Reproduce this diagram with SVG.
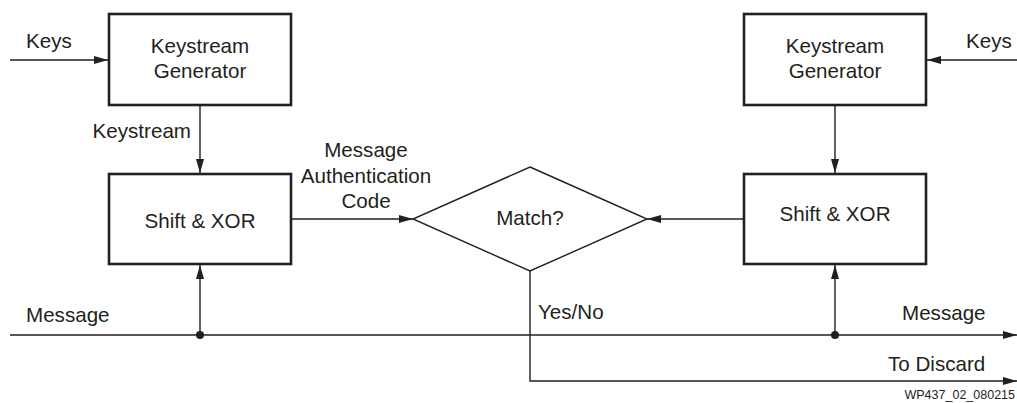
<svg xmlns="http://www.w3.org/2000/svg" width="1017" height="403" viewBox="0 0 1017 403">
<style>
text{font-family:"Liberation Sans",Arial,sans-serif;font-size:20.6px;fill:#231f20}
.box{fill:#fff;stroke:#231f20;stroke-width:2.6}
.dia{fill:#fff;stroke:#231f20;stroke-width:1.4}
.c{fill:none;stroke:#231f20;stroke-width:1.4}
.m{text-anchor:middle}
.e{text-anchor:end}
</style>
<defs>
<marker id="arr" markerUnits="userSpaceOnUse" markerWidth="14" markerHeight="8" refX="14" refY="4" orient="auto">
<path d="M0,0 L14,4 L0,8 z" fill="#231f20"/>
</marker>
</defs>
<rect width="1017" height="403" fill="#fff"/>
<g id="connectors">
<line class="c" x1="10" y1="60" x2="108" y2="60" marker-end="url(#arr)"/>
<line class="c" x1="1017" y1="60" x2="927" y2="60" marker-end="url(#arr)"/>
<line class="c" x1="200" y1="106" x2="200" y2="173" marker-end="url(#arr)"/>
<line class="c" x1="835" y1="106" x2="835" y2="173" marker-end="url(#arr)"/>
<line class="c" x1="292" y1="219" x2="413" y2="219" marker-end="url(#arr)"/>
<line class="c" x1="743" y1="219" x2="647" y2="219" marker-end="url(#arr)"/>
<line class="c" x1="10" y1="335" x2="1017" y2="335" marker-end="url(#arr)"/>
<line class="c" x1="200" y1="335" x2="200" y2="265" marker-end="url(#arr)"/>
<line class="c" x1="835" y1="335" x2="835" y2="265" marker-end="url(#arr)"/>
<circle cx="200" cy="335" r="4" fill="#231f20"/>
<circle cx="835" cy="335" r="4" fill="#231f20"/>
<polyline class="c" points="530,271 530,381 1017,381" marker-end="url(#arr)"/>
<text x="26" y="48">Keys</text>
<text x="966" y="48">Keys</text>
<text class="e" x="191" y="138">Keystream</text>
<text class="m" x="366" y="157">Message</text>
<text class="m" x="366" y="183">Authentication</text>
<text class="m" x="366" y="208">Code</text>
<text x="26" y="322">Message</text>
<text x="538" y="319">Yes/No</text>
<text x="902" y="320">Message</text>
<text x="888" y="371">To Discard</text>
</g>
<g id="kg-left">
<rect class="box" x="109" y="14" width="182" height="91"/>
<text class="m" x="200" y="53">Keystream</text>
<text class="m" x="200" y="78">Generator</text>
</g>
<g id="kg-right">
<rect class="box" x="744" y="14" width="182" height="91"/>
<text class="m" x="835" y="53">Keystream</text>
<text class="m" x="835" y="78">Generator</text>
</g>
<g id="sx-left">
<rect class="box" x="109" y="174" width="182" height="90"/>
<text class="m" x="200" y="228">Shift &amp; XOR</text>
</g>
<g id="sx-right">
<rect class="box" x="744" y="174" width="182" height="90"/>
<text class="m" x="835" y="221">Shift &amp; XOR</text>
</g>
<g id="match">
<polygon class="dia" points="530,167 647,219 530,271 413,219"/>
<text class="m" x="530" y="225">Match?</text>
</g>
<text class="e" x="1015" y="399" style="font-size:12.5px">WP437_02_080215</text>
</svg>
